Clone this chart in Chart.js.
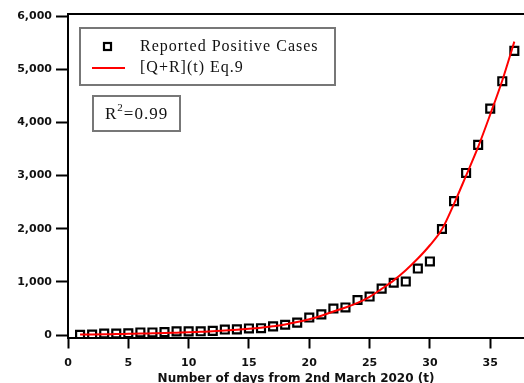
<!DOCTYPE html>
<html>
<head>
<meta charset="utf-8">
<script src="https://cdn.jsdelivr.net/npm/chart.js@4"></script>
<style>
  body { margin: 0; background: #fff; }
  canvas { display: block; }
</style>
</head>
<body>
<canvas id="casesChart" width="524" height="383"></canvas>
<script>
// Days since 2nd March 2020
const days = [1, 2, 3, 4, 5, 6, 7, 8, 9, 10, 11, 12, 13, 14, 15, 16, 17, 18, 19, 20,
    21, 22, 23, 24, 25, 26, 27, 28, 29, 30, 31, 32, 33, 34, 35, 36, 37];

// Reported positive cases (squares)
const reportedCases = [5, 10, 30, 30, 35, 50, 50, 55, 70, 70, 72, 80, 105, 108, 125, 130, 165, 195, 235, 330,
    390, 500, 520, 660, 725, 875, 985, 1008, 1252, 1385, 1996, 2520, 3050, 3578, 4260, 4776, 5347];

// [Q+R](t) Eq.9 model curve (red line)
const modelCurve = [10, 12, 15, 20, 24, 28, 33, 38, 45, 52, 62, 72, 85, 100, 118, 140, 168, 200, 245, 300,
    365, 445, 520, 605, 720, 870, 1030, 1220, 1440, 1690, 1990, 2470, 3000, 3540, 4150, 4790, 5520];

const xTicks = [0, 5, 10, 15, 20, 25, 30, 35];
const yTicks = [0, 1000, 2000, 3000, 4000, 5000, 6000];

const seriesLabels = ['Reported Positive Cases', '[Q+R](t) Eq.9'];
const fitText = { base: 'R', sup: '2', rest: '=0.99' };

const tickFont = { family: 'DejaVu Sans', size: 11, weight: 'bold' };
const serif = '"Liberation Serif", "Times New Roman", serif';

// Legend box + R^2 box drawn on top of the plot
const legendBoxes = {
    id: 'legendBoxes',
    afterDraw(chart) {
        const ctx = chart.ctx;
        const area = chart.chartArea;
        const x0 = area.left + 12;
        const y0 = area.top + 14;
        ctx.save();

        // legend frame
        ctx.strokeStyle = '#777';
        ctx.lineWidth = 2;
        ctx.fillStyle = '#fff';
        ctx.fillRect(x0, y0, 255, 57);
        ctx.strokeRect(x0, y0, 255, 57);

        // square marker
        ctx.strokeStyle = '#000';
        ctx.lineWidth = 2.2;
        ctx.strokeRect(x0 + 24, y0 + 15, 7, 7);

        // red line marker
        ctx.strokeStyle = '#f00';
        ctx.lineWidth = 2;
        ctx.beginPath();
        ctx.moveTo(x0 + 12, y0 + 40);
        ctx.lineTo(x0 + 45, y0 + 40);
        ctx.stroke();

        ctx.fillStyle = '#111';
        ctx.font = '16px ' + serif;
        ctx.letterSpacing = '1px';
        ctx.textBaseline = 'middle';
        ctx.textAlign = 'left';
        ctx.fillText(seriesLabels[0], x0 + 60, y0 + 19);
        ctx.fillText(seriesLabels[1], x0 + 60, y0 + 40);

        // R^2 box
        const bx = x0 + 13, by = y0 + 68;
        ctx.strokeStyle = '#777';
        ctx.lineWidth = 2;
        ctx.strokeRect(bx, by, 87, 35);
        ctx.fillStyle = '#111';
        ctx.font = '17px ' + serif;
        let tx = bx + 12;
        ctx.fillText(fitText.base, tx, by + 19);
        tx += ctx.measureText(fitText.base).width;
        ctx.font = '11px ' + serif;
        ctx.fillText(fitText.sup, tx, by + 12);
        tx += ctx.measureText(fitText.sup).width;
        ctx.font = '17px ' + serif;
        ctx.fillText(fitText.rest, tx, by + 19);
        ctx.restore();
    }
};

const casesChart = new Chart(document.getElementById('casesChart'), {
    type: 'scatter',
    data: {
        datasets: [{
            label: seriesLabels[0],
            data: days.map((d, i) => ({ x: d, y: reportedCases[i] })),
            pointStyle: 'rect',
            pointRadius: 5.6,
            borderColor: '#000',
            borderWidth: 2.2,
            backgroundColor: 'rgba(0,0,0,0)',
            showLine: false,
            order: 1
        }, {
            label: seriesLabels[1],
            data: days.map((d, i) => ({ x: d, y: modelCurve[i] })),
            showLine: true,
            borderColor: '#f00',
            borderWidth: 2,
            pointRadius: 0,
            cubicInterpolationMode: 'monotone',
            order: 0
        }]
    },
    options: {
        responsive: false,
        animation: false,
        layout: { autoPadding: false, padding: { top: 14, right: 0, left: 0, bottom: 0 } },
        plugins: {
            legend: { display: false },
            tooltip: { enabled: false }
        },
        scales: {
            x: {
                type: 'linear',
                position: 'bottom',
                min: 0,
                max: 37.8,
                afterFit: scale => {
                    scale.height = 45.5;
                    scale.paddingLeft = 0;
                    scale.paddingRight = 0;
                },
                afterBuildTicks: scale => { scale.ticks = xTicks.map(v => ({ value: v })); },
                grid: {
                    drawOnChartArea: false,
                    tickLength: 11,
                    tickWidth: 2,
                    tickColor: '#000'
                },
                border: { color: '#000', width: 2 },
                ticks: {
                    color: '#111',
                    font: tickFont,
                    padding: 8,
                    maxRotation: 0
                },
                title: {
                    display: true,
                    text: 'Number of days from 2nd March 2020 (t)',
                    color: '#111',
                    font: { family: 'DejaVu Sans', size: 12, weight: 'bold', lineHeight: 0.7 },
                    padding: 0
                }
            },
            xTop: {
                type: 'linear',
                position: 'top',
                min: 0,
                max: 37.8,
                afterFit: scale => {
                    scale.height = 0;
                    scale.paddingLeft = 0;
                    scale.paddingRight = 0;
                },
                grid: { drawOnChartArea: false, drawTicks: false },
                border: { color: '#000', width: 2 },
                ticks: { display: false }
            },
            y: {
                min: -45,
                max: 6040,
                afterFit: scale => { scale.width = 68; },
                afterBuildTicks: scale => { scale.ticks = yTicks.map(v => ({ value: v })); },
                grid: {
                    drawOnChartArea: false,
                    tickLength: 12,
                    tickWidth: 2,
                    tickColor: '#000'
                },
                border: { color: '#000', width: 2 },
                ticks: {
                    color: '#111',
                    font: tickFont,
                    padding: 4,
                    callback: v => v.toLocaleString('en-US')
                }
            }
        }
    },
    plugins: [legendBoxes]
});
</script>
</body>
</html>
